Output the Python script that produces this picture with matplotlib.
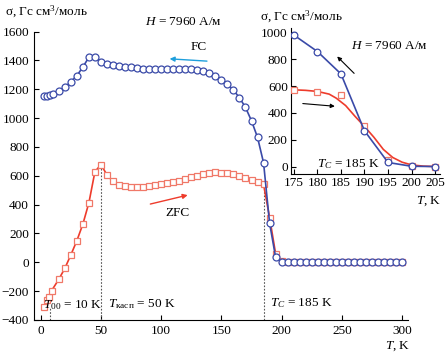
import matplotlib
matplotlib.use("Agg")
import matplotlib.pyplot as plt

plt.rcParams["font.family"] = ["Liberation Serif", "DejaVu Serif"]
plt.rcParams["mathtext.fontset"] = "custom"
plt.rcParams["mathtext.rm"] = "Liberation Serif"
plt.rcParams["mathtext.it"] = "Liberation Serif:italic"

BLUE = "#3a4aa8"
RED_LINE = "#ee3b2b"
RED_MARK = "#f07868"

# --- основной график: FC ---
fc_T = [3, 5, 7.5, 10, 15, 20, 25, 30, 35, 40, 45, 50,
        55, 60, 65, 70, 75, 80, 85, 90, 95, 100, 105, 110, 115, 120, 125, 130,
        135, 140, 145, 150, 155, 160, 165, 170, 175, 180, 185, 190, 195, 200,
        205, 210, 215, 220, 225, 230, 235, 240, 245, 250,
        255, 260, 265, 270, 275, 280, 285, 290, 295, 300]
fc_s = [1150, 1155, 1160, 1166, 1187, 1213, 1252, 1294, 1354, 1422, 1422, 1388,
        1376, 1367, 1360, 1356, 1351, 1346, 1343, 1341, 1340, 1339, 1339, 1338, 1338, 1338, 1337, 1333,
        1326, 1314, 1291, 1263, 1236, 1194, 1141, 1074, 981, 866, 690, 272, 35, 4,
        3, 3, 3, 2, 2, 2, 2, 2, 2, 2,
        2, 1, 1, 1, 1, 1, 1, 1, 1, 1]

# --- основной график: ZFC ---
zfc_T = [3, 5, 7, 9, 15, 20, 25, 30, 35, 40, 45, 50,
         55, 60, 65, 70, 75, 80, 85, 90, 95, 100, 105, 110, 115, 120, 125, 130,
         135, 140, 145, 150, 155, 160, 165, 170, 175, 180, 185, 190, 195, 200,
         205, 210, 215, 220, 225, 230, 235, 240, 245, 250,
         255, 260, 265, 270, 275, 280, 285, 290, 295, 300]
zfc_s = [-310, -262, -238, -197, -118, -42, 51, 150, 265, 413, 628, 678,
         606, 561, 538, 527, 524, 524, 524, 529, 533, 540, 547, 554, 561, 575, 589, 600,
         610, 617, 624, 621, 617, 610, 599, 584, 570, 559, 540, 310, 60, 10,
         4, 4, 3, 3, 3, 3, 3, 3, 2, 2,
         2, 2, 2, 2, 2, 2, 2, 2, 2, 2]

# --- вставка ---
ins_T = [175, 180, 185, 190, 195, 200, 205]
ins_fc = [978, 856, 690, 268, 33, 5, 3]
ins_zfc = [569, 556, 534, 300, 50, 10, 2]
# плавная кривая ZFC
ins_curve_T = [175, 177.5, 180, 182.5, 184, 186, 188, 190, 192, 194, 196, 198, 200, 202.5, 205]
ins_curve_s = [572, 568, 560, 540, 510, 455, 375, 300, 220, 130, 70, 35, 15, 6, 3]

FS = 9.5

fig = plt.figure(figsize=(4.47, 3.55), dpi=100)
ax = fig.add_axes([0.076, 0.0986, 0.837, 0.8125])

ax.plot(zfc_T, zfc_s, color=RED_LINE, lw=1.2, marker="s", ms=4.8,
        mfc="white", mec=RED_MARK, mew=0.9, zorder=3)
ax.plot(fc_T, fc_s, color=BLUE, lw=1.2, marker="o", ms=5,
        mfc="white", mec=BLUE, mew=0.9, zorder=4)

for t, top in [(8, -310), (50, 678), (185, 540)]:
    ax.plot([t, t], [-400, top], color="#555555", lw=0.8, ls=(0, (1.5, 1.5)), zorder=2)

ax.set_xlim(-5.6, 305)
ax.set_ylim(-400, 1600)
ax.set_xticks(range(0, 301, 50))
ax.set_yticks(range(-400, 1601, 200))
ax.yaxis.set_major_formatter(matplotlib.ticker.FuncFormatter(
    lambda v, p: f"{int(v)}".replace("-", "\u2212")))
for s in ["top", "right"]:
    ax.spines[s].set_visible(False)
ax.tick_params(direction="in", length=3.5, labelsize=FS, width=0.8)

ax.text(118.5, 1665, "$H$ = 7960 А/м", ha="center", va="center", fontsize=FS, clip_on=False)
ax.text(131, 1492, "FC", ha="center", va="center", fontsize=FS)
ax.annotate("", xy=(107, 1411), xytext=(138, 1395),
            arrowprops=dict(arrowstyle="-|>", color="#1e9fdc", lw=1.0,
                            mutation_scale=7, shrinkA=0, shrinkB=0))
ax.text(113.5, 342, "ZFC", ha="center", va="center", fontsize=FS)
ax.annotate("", xy=(122, 466), xytext=(91, 404),
            arrowprops=dict(arrowstyle="-|>", color=RED_LINE, lw=1.0,
                            mutation_scale=7, shrinkA=0, shrinkB=0))
ax.text(2, -296, "$T_{00}$ = 10 K", ha="left", va="center", fontsize=FS)
ax.text(56, -292, r"$T_{\mathrm{касп}}$ = 50 K", ha="left", va="center", fontsize=FS)
ax.text(190, -285, "$T_C$ = 185 K", ha="left", va="center", fontsize=FS)

fig.text(5 / 447, 1 - 12 / 355, "σ, Гс см$^3$/моль", ha="left", va="center", fontsize=FS)
fig.text(410 / 447, 1 - 346 / 355, "$T$, K", ha="right", va="center", fontsize=FS)

# --- вставка ---
ins = fig.add_axes([0.650, 0.510, 0.334, 0.411])
ins.plot(ins_curve_T, ins_curve_s, color=RED_LINE, lw=1.2, zorder=2)
ins.plot(ins_T, ins_zfc, ls="none", marker="s", ms=4.5,
         mfc="white", mec=RED_MARK, mew=0.9, zorder=3)
ins.plot(ins_T, ins_fc, color=BLUE, lw=1.2, marker="o", ms=4.8,
         mfc="white", mec=BLUE, mew=0.9, zorder=4)
ins.set_xlim(174.3, 206)
ins.set_ylim(-52, 1030)
ins.set_xticks(range(175, 206, 5))
ins.set_yticks(range(0, 1001, 200))
for s in ["top", "right"]:
    ins.spines[s].set_visible(False)
ins.tick_params(direction="in", length=3.5, labelsize=FS, width=0.8, pad=2)

ins.text(195.2, 896, "$H$ = 7960 А/м", ha="center", va="center", fontsize=FS)
ins.annotate("", xy=(184.2, 819), xytext=(187.8, 694),
             arrowprops=dict(arrowstyle="-|>", color="black", lw=0.8,
                             mutation_scale=6, shrinkA=0, shrinkB=0))
ins.annotate("", xy=(183.7, 450), xytext=(176.9, 470),
             arrowprops=dict(arrowstyle="-|>", color="black", lw=0.8,
                             mutation_scale=6, shrinkA=0, shrinkB=0))
ins.text(186.5, 18, "$T_C$ = 185 K", ha="center", va="center", fontsize=FS)

fig.text(260 / 447, 1 - 17 / 355, "σ, Гс см$^3$/моль", ha="left", va="center", fontsize=FS)
fig.text(441 / 447, 1 - 201 / 355, "$T$, K", ha="right", va="center", fontsize=FS)

fig.savefig("out.png", dpi=100)
